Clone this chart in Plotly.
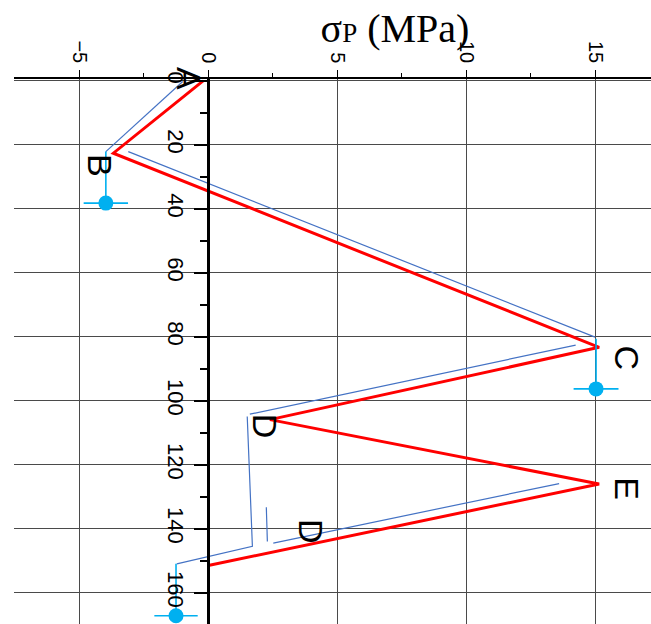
import plotly.graph_objects as go

# Stress path (red): principal stress sigma_P against depth
red_sigma = [-0.2, -3.68, 15.15, 2.39, 15.15, 0.0]
red_depth = [0.0, 22.6, 83.3, 105.9, 126.0, 151.5]

# Reference path (thin blue), drawn as separate pieces
blue_segments = [
    ([-0.99, -3.97], [0.2, 22.1]),
    ([-3.10, 14.99], [22.1, 80.1]),
    ([14.24, 1.61], [82.6, 104.2]),
    ([1.51, 1.71, -1.22], [104.9, 145.5, 151.0]),
    ([13.6, 2.52], [125.9, 144.5]),
    ([2.25, 2.29], [133.3, 144.0]),
]

# Measured points (cyan) with horizontal error, hung below the path vertices
meas_sigma = [-3.97, 15.03, -1.25]
meas_top = [22.1, 80.6, 151.0]
meas_depth = [38.2, 96.3, 167.2]
meas_err = [0.86, 0.87, 0.84]

# Point labels
lab_text = ["A", "B", "C", "D", "D", "E"]
lab_sigma = [-0.75, -4.2, 16.25, 2.2, 4.0, 16.25]
lab_depth = [-0.6, 26.6, 86.6, 107.8, 140.9, 127.5]

x_ticks = [-5, 0, 5, 10, 15]

RED = "#FF0000"
BLUE = "#4472C4"
CYAN = "#00B0F0"
GRID = "#4a4a4a"

fig = go.Figure()

bx, by = [], []
for sx, sy in blue_segments:
    bx += sx + [None]
    by += sy + [None]
fig.add_trace(go.Scatter(x=bx, y=by, mode="lines",
                         line=dict(color=BLUE, width=1.2), hoverinfo="skip"))

fig.add_trace(go.Scatter(x=red_sigma, y=red_depth, mode="lines",
                         line=dict(color=RED, width=3)))

cx, cy = [], []
for s, t, d in zip(meas_sigma, meas_top, meas_depth):
    cx += [s, s, None]
    cy += [t, d, None]
fig.add_trace(go.Scatter(x=cx, y=cy, mode="lines",
                         line=dict(color=CYAN, width=1.6), hoverinfo="skip"))
fig.add_trace(go.Scatter(
    x=meas_sigma, y=meas_depth, mode="markers",
    marker=dict(color=CYAN, size=15),
    error_x=dict(type="data", array=meas_err, color=CYAN, thickness=1.6, width=0),
))

for t, s, d in zip(lab_text, lab_sigma, lab_depth):
    fig.add_annotation(x=s, y=d, xref="x", yref="y", text=t, showarrow=False,
                       textangle=90, xanchor="center", yanchor="middle",
                       font=dict(family="Liberation Sans, Arial, sans-serif",
                                 size=34, color="black"))

W, H = 651, 624
L, T = 14, 79
x_lo = -7.53
px_per_x = 25.8
x_hi = x_lo + (W - L) / px_per_x
axis_pos = (0 - x_lo) / (x_hi - x_lo)

fig.update_layout(
    width=W, height=H,
    margin=dict(l=L, r=0, t=T, b=0, pad=0),
    plot_bgcolor="white", paper_bgcolor="white",
    showlegend=False,
    title=dict(
        text='σ<span style="font-size:27px">P</span> (MPa)',
        x=395 / W, xanchor="center", y=1 - 28 / H, yanchor="middle",
        xref="container", yref="container",
        font=dict(family="Liberation Serif, Times New Roman, serif", size=40, color="black"),
    ),
    xaxis=dict(
        side="top", range=[x_lo, x_hi], tickvals=x_ticks,
        tickangle=90, ticks="outside", ticklen=7, tickwidth=1.3, tickcolor="black",
        minor=dict(tickvals=[-2.5, 2.5, 7.5, 12.5], ticks="outside", ticklen=4,
                   tickwidth=1.3, tickcolor="black", showgrid=False),
        showline=True, linecolor="black", linewidth=1.5,
        showgrid=True, gridcolor=GRID, gridwidth=1,
        zeroline=False,
        tickfont=dict(family="Liberation Sans, Arial, sans-serif", size=20, color="black"),
    ),
    yaxis=dict(
        range=[169.8, -0.6], anchor="free", position=axis_pos,
        tick0=0, dtick=20, tickangle=90,
        ticks="outside", ticklen=13, tickwidth=1.5, tickcolor="black",
        minor=dict(dtick=10, ticks="outside", ticklen=7, tickwidth=1.5,
                   tickcolor="black", showgrid=False),
        showline=True, linecolor="black", linewidth=3,
        showgrid=True, gridcolor=GRID, gridwidth=1,
        zeroline=False,
        tickfont=dict(family="Liberation Sans Narrow, Arial Narrow, Liberation Sans, sans-serif",
                      size=22, color="black"),
    ),
)

fig.write_html("out.html")
